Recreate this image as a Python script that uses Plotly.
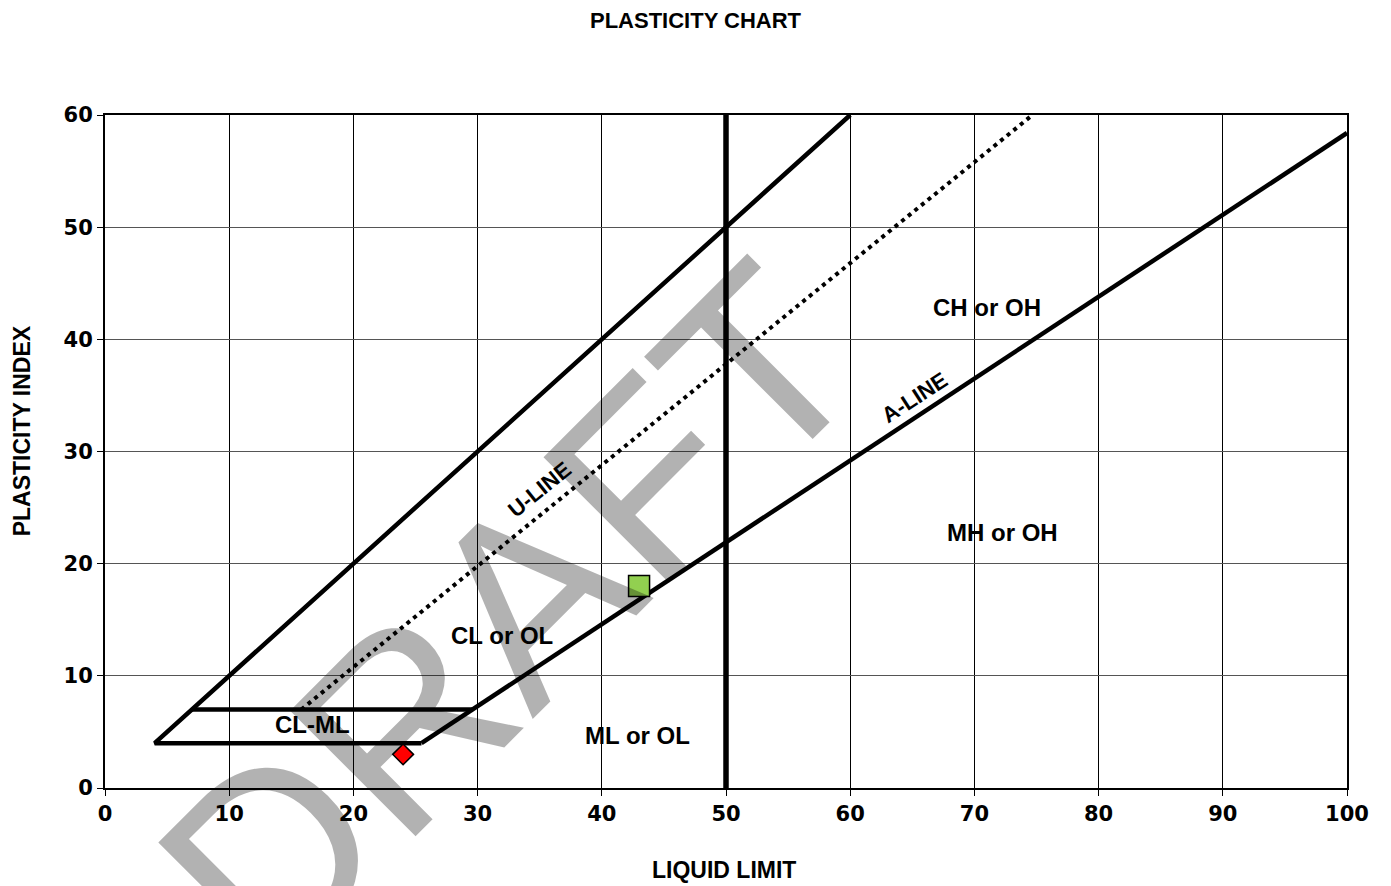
import plotly.graph_objects as go

# ---- data ----
boundary_ll = [60, 4, 25.48]          # PI = LL line down to (4,4), then bottom of CL-ML band
boundary_pi = [60, 4, 4]
clml_top_ll = [7, 29.59]
clml_top_pi = [7, 7]
a_line_ll = [25.48, 100]
a_line_pi = [4, 58.4]
u_line_ll = [15.8, 74.67]
u_line_pi = [7, 60]
ll50_ll = [50, 50]
ll50_pi = [0, 60]

sample1_ll = [43]
sample1_pi = [18]
sample2_ll = [24]
sample2_pi = [3]

region_labels = ["CH or OH", "MH or OH", "CL or OL", "ML or OL", "CL-ML"]
region_ll = [71.0, 72.3, 32.0, 42.9, 16.7]
region_pi = [42.8, 22.8, 13.6, 4.7, 5.7]

line_labels = ["U-LINE", "A-LINE"]
line_label_ll = [35.0, 65.2]
line_label_pi = [26.6, 34.8]
line_label_angle = [-39, -33]

x_ticks = [0, 10, 20, 30, 40, 50, 60, 70, 80, 90, 100]
y_ticks = [0, 10, 20, 30, 40, 50, 60]

BOLD = "Liberation Sans, Arial, sans-serif"
TICKFONT = dict(family="DejaVu Sans, Verdana, sans-serif", size=21, color="black", weight="bold")

fig = go.Figure()
fig.add_trace(go.Scatter(x=boundary_ll, y=boundary_pi, mode="lines",
                         line=dict(color="black", width=4.5), hoverinfo="skip"))
fig.add_trace(go.Scatter(x=clml_top_ll, y=clml_top_pi, mode="lines",
                         line=dict(color="black", width=4.5), hoverinfo="skip"))
fig.add_trace(go.Scatter(x=a_line_ll, y=a_line_pi, mode="lines",
                         line=dict(color="black", width=4.5), hoverinfo="skip"))
fig.add_trace(go.Scatter(x=u_line_ll, y=u_line_pi, mode="lines",
                         line=dict(color="black", width=4, dash="4px,4.5px"), hoverinfo="skip"))
fig.add_trace(go.Scatter(x=ll50_ll, y=ll50_pi, mode="lines",
                         line=dict(color="black", width=5.5), hoverinfo="skip"))
fig.add_trace(go.Scatter(x=sample1_ll, y=sample1_pi, mode="markers",
                         marker=dict(symbol="square", size=21, color="#92d050",
                                     line=dict(color="black", width=1.5))))
fig.add_trace(go.Scatter(x=sample2_ll, y=sample2_pi, mode="markers",
                         marker=dict(symbol="diamond", size=16, color="red",
                                     line=dict(color="black", width=1.5))))

annotations = []
for t, x, y in zip(region_labels, region_ll, region_pi):
    annotations.append(dict(x=x, y=y, xref="x", yref="y", text=f"<b>{t}</b>",
                            xanchor="center", yanchor="middle",
                            showarrow=False, font=dict(family=BOLD, size=24, color="black")))
for t, x, y, a in zip(line_labels, line_label_ll, line_label_pi, line_label_angle):
    annotations.append(dict(x=x, y=y, xref="x", yref="y", text=f"<b>{t}</b>", textangle=a,
                            xanchor="center", yanchor="middle",
                            showarrow=False, font=dict(family=BOLD, size=22, color="black")))

# axis titles
annotations.append(dict(x=0.4985, y=0, xref="paper", yref="paper", yshift=-82,
                        xanchor="center", yanchor="middle",
                        text="<b>LIQUID LIMIT</b>", showarrow=False,
                        font=dict(family=BOLD, size=23, color="black")))
annotations.append(dict(x=0, y=0.53, xref="paper", yref="paper", xshift=-83,
                        xanchor="center", yanchor="middle",
                        text="<b>PLASTICITY INDEX</b>", textangle=-90, showarrow=False,
                        font=dict(family=BOLD, size=23, color="black")))

# watermark
annotations.append(dict(x=0.326, y=0.2556, xref="paper", yref="paper",
                        xanchor="center", yanchor="middle",
                        text="DRAFT", textangle=-45, showarrow=False,
                        font=dict(family="Liberation Sans, Arial, sans-serif", size=258,
                                  color="rgba(0,0,0,0.3)")))

fig.update_layout(
    width=1391, height=886,
    margin=dict(l=105, r=44, t=115, b=98),
    paper_bgcolor="white", plot_bgcolor="white",
    showlegend=False,
    title=dict(text="<b>PLASTICITY CHART</b>", x=0.5, xref="container", xanchor="center",
               y=1 - 20 / 886, yref="container", yanchor="middle",
               font=dict(family=BOLD, size=22, color="black")),
    annotations=annotations,
)
fig.update_xaxes(range=[0, 100], tickvals=x_ticks, showgrid=True, gridcolor="black", gridwidth=1,
                 showline=True, linecolor="black", linewidth=2, mirror=True,
                 ticks="outside", ticklen=6, tickcolor="black", zeroline=False,
                 tickfont=TICKFONT)
fig.update_yaxes(range=[0, 60], tickvals=y_ticks, showgrid=True, gridcolor="#555555", gridwidth=1,
                 showline=True, linecolor="black", linewidth=2, mirror=True,
                 ticks="outside", ticklen=6, tickcolor="black", zeroline=False,
                 tickfont=TICKFONT)

fig.write_html("out.html")
